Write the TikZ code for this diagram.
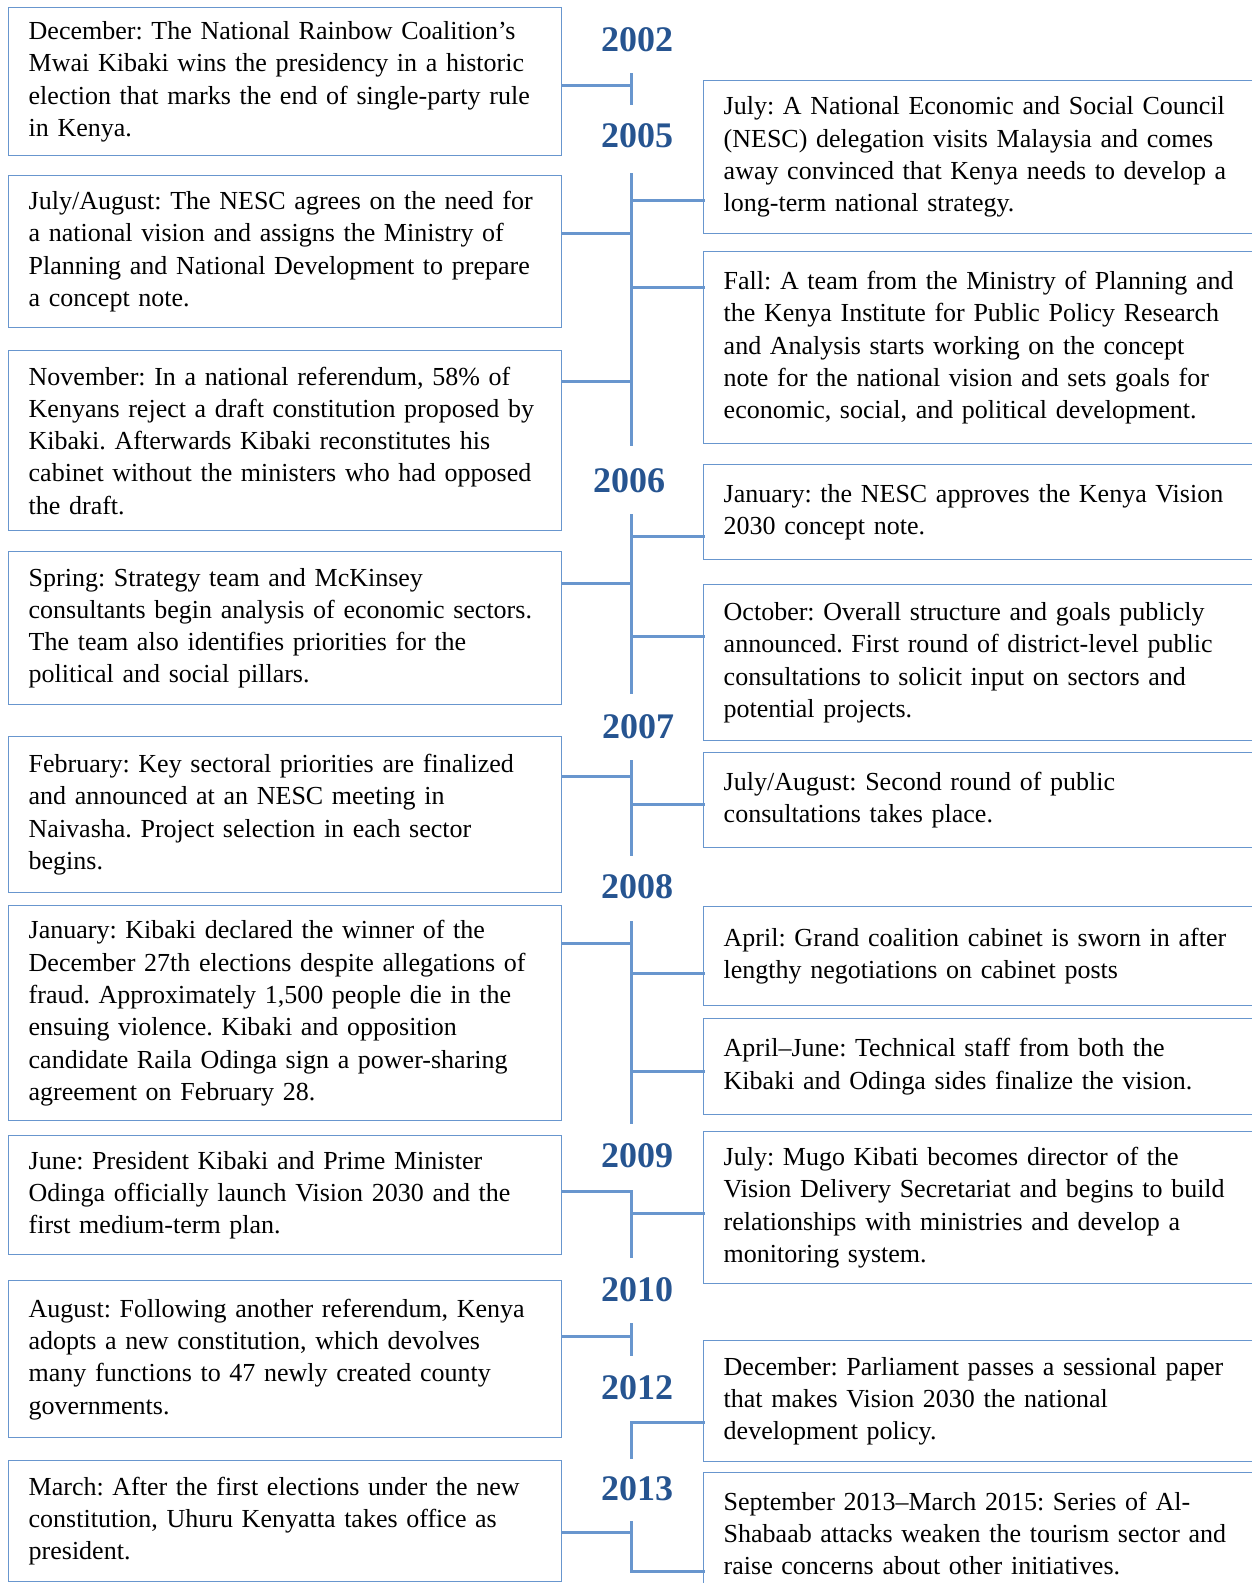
\documentclass[tikz,border=0pt]{standalone}
\usepackage{fontspec}
\setmainfont{Liberation Serif}
\frenchspacing
\definecolor{lineblue}{RGB}{104,150,206}
\definecolor{yearblue}{RGB}{38,84,144}
\begin{document}
\begin{tikzpicture}[x=1pt,y=-1pt,line cap=rect,
 evbox/.style={draw=lineblue,line width=1.4pt,anchor=north west,inner xsep=20pt,inner ysep=0pt,align=left,font=\fontsize{26}{32.3}\selectfont},
 lbox/.style={evbox,text width=513pt},
 rbox/.style={evbox,text width=522pt},
 year/.style={font=\fontsize{36}{36}\selectfont\bfseries,text=yearblue},
 tl/.style={lineblue,line width=3pt}]
 \def\tx{631}
 \useasboundingbox (0,0) rectangle (1252,1583);
 % left column
 \node[lbox,minimum height=148pt] (l1) at (8,7) {December: The National Rainbow Coalition’s\\Mwai Kibaki wins the presidency in a historic\\election that marks the end of single-party rule\\in Kenya.};
 \node[lbox,minimum height=152pt] (l2) at (8,175) {July/August: The NESC agrees on the need for\\a national vision and assigns the Ministry of\\Planning and National Development to prepare\\a concept note.};
 \node[lbox,minimum height=180pt] (l3) at (8,350) {November: In a national referendum, 58\% of\\Kenyans reject a draft constitution proposed by\\Kibaki. Afterwards Kibaki reconstitutes his\\cabinet without the ministers who had opposed\\the draft.};
 \node[lbox,minimum height=153pt] (l4) at (8,551) {Spring: Strategy team and McKinsey\\consultants begin analysis of economic sectors.\\The team also identifies priorities for the\\political and social pillars.};
 \node[lbox,minimum height=156pt] (l5) at (8,736) {February: Key sectoral priorities are finalized\\and announced at an NESC meeting in\\Naivasha. Project selection in each sector\\begins.};
 \node[lbox,minimum height=215pt] (l6) at (8,905) {January: Kibaki declared the winner of the\\December 27th elections despite allegations of\\fraud. Approximately 1,500 people die in the\\ensuing violence. Kibaki and opposition\\candidate Raila Odinga sign a power-sharing\\agreement on February 28.};
 \node[lbox,minimum height=119pt] (l7) at (8,1135) {June: President Kibaki and Prime Minister\\Odinga officially launch Vision 2030 and the\\first medium-term plan.};
 \node[lbox,minimum height=157pt] (l8) at (8,1280) {August: Following another referendum, Kenya\\adopts a new constitution, which devolves\\many functions to 47 newly created county\\governments.};
 \node[lbox,minimum height=121pt] (l9) at (8,1460) {March: After the first elections under the new\\constitution, Uhuru Kenyatta takes office as\\president.};
 % right column
 \node[rbox,minimum height=153pt] (r1) at (703,80) {July: A National Economic and Social Council\\(NESC) delegation visits Malaysia and comes\\away convinced that Kenya needs to develop a\\long-term national strategy.};
 \node[rbox,minimum height=192pt] (r2) at (703,251) {Fall: A team from the Ministry of Planning and\\the Kenya Institute for Public Policy Research\\and Analysis starts working on the concept\\note for the national vision and sets goals for\\economic, social, and political development.};
 \node[rbox,minimum height=95pt] (r3) at (703,464) {January: the NESC approves the Kenya Vision\\2030 concept note.};
 \node[rbox,minimum height=156pt] (r4) at (703,584) {October: Overall structure and goals publicly\\announced. First round of district-level public\\consultations to solicit input on sectors and\\potential projects.};
 \node[rbox,minimum height=95pt] (r5) at (703,752) {July/August: Second round of public\\consultations takes place.};
 \node[rbox,minimum height=99pt] (r6) at (703,906) {April: Grand coalition cabinet is sworn in after\\lengthy negotiations on cabinet posts};
 \node[rbox,minimum height=96pt] (r7) at (703,1018) {April–June: Technical staff from both the\\Kibaki and Odinga sides finalize the vision.};
 \node[rbox,minimum height=152pt] (r8) at (703,1131) {July: Mugo Kibati becomes director of the\\Vision Delivery Secretariat and begins to build\\relationships with ministries and develop a\\monitoring system.};
 \node[rbox,minimum height=121pt] (r9) at (703,1340) {December: Parliament passes a sessional paper\\that makes Vision 2030 the national\\development policy.};
 \node[rbox,minimum height=122pt] (r10) at (703,1472) {September 2013–March 2015: Series of Al-\\Shabaab attacks weaken the tourism sector and\\raise concerns about other initiatives.};
 % years
 \foreach \yr/\px/\py in {2002/637/40,2005/637/136,2006/629/481,2007/638/727,2008/637/887,2009/637/1156,2010/637/1290,2012/637/1388,2013/637/1489}
  \node[year] (y\yr) at (\px,\py) {\yr};
 % timeline
 \foreach \a/\b in {74/103,174/444,515/692,761/854,922/1122,1191/1256,1324/1354,1422/1457,1522/1571}
  \draw[tl] (\tx,\a)--(\tx,\b);
 \foreach \n/\y in {l1/85,l2/233,l3/381,l4/583,l5/776,l6/943,l7/1191,l8/1336,l9/1532}
  \draw[tl] (\n.east |- \tx,\y)--(\tx,\y);
 \foreach \n/\y in {r1/200,r2/287,r3/536,r4/636,r5/804,r6/973,r7/1071,r8/1213,r9/1422,r10/1571}
  \draw[tl] (\tx,\y)--(\n.west |- \tx,\y);
\end{tikzpicture}
\end{document}
